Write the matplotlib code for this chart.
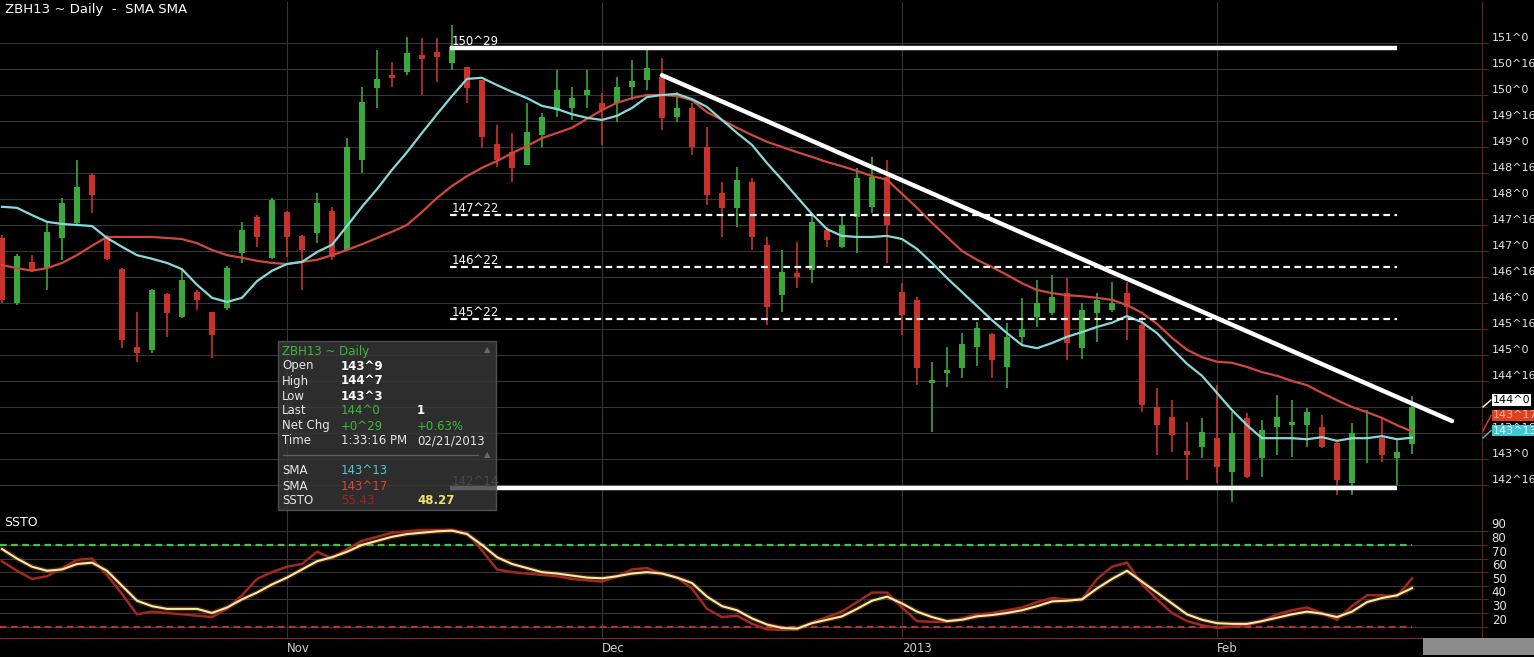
import math
import matplotlib
matplotlib.use('Agg')
import matplotlib.pyplot as plt
from matplotlib.patches import Rectangle
from matplotlib.lines import Line2D

W, H = 1534, 657
plt.rcParams['font.family'] = ['DejaVu Sans']

# daily candles ZBH13 (prices in points, 32nds shown on axis)
opens = [147.25, 146.00, 146.79, 146.67, 147.25, 147.54, 148.46, 147.27, 146.65, 145.15,
         145.10, 146.17, 145.73, 146.21, 145.83, 145.90, 146.96, 147.65, 146.87, 147.75,
         147.29, 147.35, 147.77, 147.02, 148.75, 150.13, 150.38, 150.44, 150.77, 150.83,
         150.62, 150.54, 150.29, 149.06, 148.90, 148.65, 149.23, 149.71, 149.75, 150.00,
         149.85, 149.85, 150.15, 150.29, 150.35, 149.58, 149.75, 149.00, 148.12, 147.83,
         148.33, 147.12, 146.15, 146.58, 146.63, 147.40, 147.08, 147.65, 147.85, 148.42,
         146.21, 146.06, 144.46, 144.65, 144.75, 145.15, 145.40, 144.77, 145.35, 145.73,
         145.81, 146.19, 145.13, 145.81, 145.87, 146.19, 145.58, 144.00, 143.81, 143.15,
         143.23, 143.40, 142.75, 143.79, 143.02, 143.62, 143.65, 143.65, 143.62, 143.31,
         142.54, 143.40, 143.40, 143.02, 143.28]
highs = [147.31, 146.94, 146.92, 147.54, 148.02, 148.75, 148.50, 147.31, 146.67, 145.83,
         146.27, 146.19, 146.63, 146.25, 145.83, 146.71, 147.56, 147.69, 148.02, 147.77,
         147.31, 148.12, 147.85, 149.17, 150.15, 150.87, 150.63, 151.12, 151.10, 151.10,
         151.35, 150.54, 150.29, 149.42, 149.27, 149.85, 149.65, 150.48, 150.15, 150.48,
         150.04, 150.35, 150.67, 150.90, 150.71, 150.06, 149.85, 149.38, 148.33, 148.62,
         148.40, 147.27, 147.02, 147.17, 147.73, 147.46, 147.69, 148.60, 148.81, 148.75,
         146.38, 146.12, 144.87, 145.15, 145.42, 145.63, 145.42, 145.62, 146.10, 146.44,
         146.54, 146.48, 146.00, 146.19, 146.40, 146.40, 145.73, 144.37, 144.13, 143.71,
         143.79, 144.42, 143.90, 143.88, 143.75, 144.23, 144.13, 143.98, 143.85, 143.33,
         143.69, 143.94, 143.81, 143.37, 144.22]
lows = [146.00, 145.96, 146.60, 146.25, 146.83, 147.50, 147.73, 146.83, 145.13, 144.87,
        145.04, 145.35, 145.71, 145.87, 144.94, 145.87, 146.77, 147.08, 146.85, 146.88,
        146.25, 147.15, 146.83, 147.02, 148.50, 149.75, 150.15, 150.38, 150.00, 150.25,
        150.48, 149.85, 148.98, 148.62, 148.33, 148.65, 149.00, 149.58, 149.52, 149.75,
        149.04, 149.48, 149.90, 150.10, 149.33, 149.48, 148.85, 147.88, 147.27, 147.46,
        147.02, 145.58, 145.83, 146.29, 146.38, 147.08, 147.06, 146.96, 147.73, 146.77,
        145.38, 144.42, 143.52, 144.38, 144.56, 144.79, 144.56, 144.37, 145.19, 145.54,
        145.77, 144.90, 144.92, 145.25, 145.83, 145.29, 143.90, 143.08, 143.13, 142.60,
        143.02, 142.54, 142.17, 142.63, 142.65, 143.08, 143.04, 143.23, 143.21, 142.31,
        142.31, 142.92, 142.94, 142.50, 143.09]
closes = [146.06, 146.90, 146.63, 147.37, 147.92, 148.23, 148.08, 146.85, 145.29, 145.04,
          146.25, 145.81, 146.44, 146.06, 145.38, 146.67, 147.40, 147.27, 147.98, 147.27,
          147.02, 147.92, 146.88, 149.00, 149.87, 150.31, 150.33, 150.81, 150.69, 150.73,
          150.92, 150.13, 149.19, 148.75, 148.60, 149.29, 149.58, 150.10, 149.94, 150.10,
          149.71, 150.15, 150.27, 150.52, 149.56, 149.75, 149.00, 148.08, 147.83, 148.37,
          147.27, 145.92, 146.60, 146.50, 147.56, 147.21, 147.50, 148.40, 148.42, 147.50,
          145.77, 144.75, 144.52, 144.71, 145.21, 145.52, 144.90, 145.35, 145.50, 146.00,
          146.12, 145.23, 145.87, 146.06, 146.00, 145.92, 144.04, 143.65, 143.46, 143.08,
          143.52, 142.85, 143.50, 142.65, 143.56, 143.81, 143.71, 143.90, 143.23, 142.60,
          143.50, 143.42, 143.08, 143.13, 144.00]

sma_fast = [147.85, 147.83, 147.69, 147.56, 147.52, 147.50, 147.48, 147.25, 147.08, 146.92,
            146.85, 146.77, 146.65, 146.35, 146.10, 146.02, 146.10, 146.42, 146.62, 146.75,
            146.79, 146.98, 147.12, 147.48, 147.85, 148.19, 148.56, 148.90, 149.27, 149.63,
            149.98, 150.31, 150.33, 150.19, 150.06, 149.94, 149.79, 149.73, 149.63, 149.56,
            149.52, 149.60, 149.75, 149.96, 150.00, 150.02, 149.92, 149.77, 149.52, 149.27,
            149.04, 148.69, 148.37, 148.04, 147.71, 147.42, 147.29, 147.27, 147.27, 147.29,
            147.23, 147.04, 146.77, 146.48, 146.21, 145.94, 145.67, 145.42, 145.19, 145.13,
            145.23, 145.35, 145.44, 145.54, 145.62, 145.75, 145.63, 145.42, 145.12, 144.83,
            144.60, 144.27, 143.94, 143.65, 143.40, 143.40, 143.40, 143.38, 143.42, 143.35,
            143.40, 143.40, 143.44, 143.38, 143.41]
sma_slow = [146.73, 146.67, 146.62, 146.67, 146.77, 146.92, 147.10, 147.27, 147.27, 147.27,
            147.27, 147.25, 147.23, 147.15, 147.02, 146.92, 146.87, 146.81, 146.77, 146.75,
            146.79, 146.83, 146.92, 147.02, 147.13, 147.25, 147.37, 147.50, 147.75, 148.02,
            148.25, 148.44, 148.60, 148.73, 148.88, 149.02, 149.17, 149.27, 149.37, 149.54,
            149.71, 149.85, 149.94, 150.00, 150.00, 149.98, 149.90, 149.67, 149.52, 149.37,
            149.23, 149.10, 149.00, 148.90, 148.81, 148.71, 148.63, 148.54, 148.44, 148.37,
            148.10, 147.83, 147.54, 147.27, 147.00, 146.83, 146.69, 146.54, 146.38, 146.25,
            146.19, 146.15, 146.13, 146.10, 146.06, 145.96, 145.81, 145.60, 145.33, 145.10,
            144.96, 144.87, 144.85, 144.77, 144.67, 144.60, 144.50, 144.42, 144.27, 144.13,
            144.00, 143.90, 143.79, 143.65, 143.53]

# slow stochastic
ssto_k = [68, 61, 55, 57, 63, 69, 70, 58, 44, 29,
          31, 30, 29, 28, 27, 33, 43, 55, 60, 64,
          66, 75, 70, 77, 83, 86, 89, 90, 91, 91,
          91, 89, 76, 62, 60, 59, 58, 57, 55, 54,
          53, 57, 62, 63, 59, 56, 48, 33, 27, 28,
          22, 18, 17.5, 18, 23, 27, 31, 38, 45, 45,
          34, 24, 23.5, 23.5, 26, 29, 30, 32, 34, 38,
          41, 40, 40, 55, 64, 67, 51, 40, 30, 24,
          21, 19, 20, 21, 24, 29, 32, 34, 30, 25,
          35, 43, 43, 42, 55.43]
ssto_d = [77, 70, 64, 61, 62, 66, 67, 61, 50, 39,
          35, 33, 33, 33, 30, 34, 40, 45, 51, 56,
          62, 68, 71, 75, 80, 83, 86, 88, 89, 90,
          90.5, 88, 80, 71, 66, 63, 60, 59, 57.5, 56,
          55.5, 57, 59, 60, 59, 56, 52, 42, 35, 32,
          26, 21.5, 19, 18.5, 22.5, 25, 27.5, 33, 39, 42,
          37, 31, 27, 24, 25, 27.5, 28.5, 30, 32, 35,
          38.5, 39, 40, 48, 55, 61, 53, 45, 37, 29,
          25, 22.5, 22, 22, 24, 26.5, 29, 31, 29.5, 27,
          31, 38, 41, 43, 48.27]

month_idx = [19, 40, 60, 81]
month_names = ['Nov', 'Dec', '2013', 'Feb']

resist = 150 + 29 / 32    # 150^29
support = 142 + 14 / 32   # 142^14
fib_levels = [147 + 22 / 32, 146 + 22 / 32, 145 + 22 / 32]
trend_x = [44, 96.67]
trend_y = [150.38, 143.73]


def frac32(p):
    whole = int(math.floor(p + 1e-9))
    t = int(round((p - whole) * 32))
    if t == 32:
        whole, t = whole + 1, 0
    return f"{whole}^{t}"


def fx(x):
    return x / W


def fy(y):
    return 1 - y / H


up_col = '#3aa83a'
dn_col = '#c8322a'
grid_col = '#363636'
axis_red = '#6b1f1f'

fig = plt.figure(figsize=(W / 100, H / 100), dpi=100, facecolor='black')
ax = fig.add_axes([0, fy(507), fx(1482), 505 / H], facecolor='black')
ax2 = fig.add_axes([0, fy(638), fx(1482), 131 / H], facecolor='black')

n = len(closes)
idx = list(range(n))

# candles
for i in idx:
    o, h, l, c = opens[i], highs[i], lows[i], closes[i]
    col = up_col if c >= o else dn_col
    ax.vlines(i, l, h, color=col, lw=1.2, zorder=3)
    ax.bar(i, max(abs(c - o), 0.025), bottom=min(o, c), width=0.34,
           color=col, zorder=3)

ax.plot(idx, sma_slow, color='#d2483a', lw=1.6, zorder=4)
ax.plot(idx, sma_fast, color='#86d9dc', lw=1.6, zorder=4)

# drawn levels
ax.hlines(resist, 29.9, 93, color='white', lw=3.2, zorder=5)
ax.hlines(support, 29.9, 93, color='white', lw=3.2, zorder=5)
for lv in fib_levels:
    ax.hlines(lv, 29.9, 93, color='white', lw=1.6, linestyles=(0, (3, 2)), zorder=5)
    ax.text(30, lv, frac32(lv), color='white', fontsize=8.5, va='bottom', zorder=6)
ax.text(30, resist, frac32(resist), color='white', fontsize=8.5, va='bottom', zorder=6)
ax.text(30, support, frac32(support), color='#9a9a9a', fontsize=8.5, va='bottom', zorder=6)
ax.plot(trend_x, trend_y, color='white', lw=3.2, solid_capstyle='round', zorder=5)

xmin, xmax = -2 / 15, 1480 / 15
ax.set_xlim(xmin, xmax)
ax.set_ylim(142.077, 151.788)
levels = [142.5 + 0.5 * k for k in range(18)]
ax.set_yticks(levels)
ax.set_yticklabels([frac32(v) for v in levels])
ax.yaxis.tick_right()
ax.tick_params(axis='y', color=axis_red, labelcolor='#e6e6e6', labelsize=8,
               length=4, pad=3)
for lab in ax.get_yticklabels():
    lab.set_verticalalignment('bottom')
ax.set_xticks(month_idx)
ax.tick_params(axis='x', length=0, labelbottom=False)
ax.grid(True, color=grid_col, lw=0.8)
ax.set_axisbelow(True)
for s in ['top', 'left', 'bottom']:
    ax.spines[s].set_visible(False)
ax.spines['right'].set_color(axis_red)

# SSTO panel
ax2.plot(idx, ssto_d, color='#c8641e', lw=3.5, alpha=0.35, zorder=3)
ax2.plot(idx, ssto_k, color='#a3281e', lw=1.8, zorder=3)
ax2.plot(idx, ssto_d, color='#f7eba8', lw=1.5, zorder=4)
ax2.hlines(80, xmin, 94, colors='#4cc24c', linestyles=(0, (3, 2)), lw=1.6, zorder=2)
ax2.hlines(20, xmin, 94, colors='#b33232', linestyles=(0, (3, 2)), lw=1.6, zorder=2)
ax2.set_xlim(xmin, xmax)
ax2.set_ylim(11.6, 107.9)
ax2.set_yticks(range(20, 100, 10))
ax2.yaxis.tick_right()
ax2.tick_params(axis='y', color=axis_red, labelcolor='#e6e6e6', labelsize=8.5,
                length=4, pad=3)
for lab in ax2.get_yticklabels():
    lab.set_verticalalignment('bottom')
ax2.set_xticks(month_idx)
ax2.set_xticklabels(month_names)
ax2.tick_params(axis='x', length=0, labelcolor='#d0d0d0', labelsize=8.5, pad=3)
for lab in ax2.get_xticklabels():
    lab.set_horizontalalignment('left')
ax2.grid(True, color=grid_col, lw=0.8)
ax2.set_axisbelow(True)
ax2.spines['top'].set_visible(False)
ax2.spines['left'].set_visible(False)
ax2.spines['right'].set_color(axis_red)
ax2.spines['bottom'].set_color('#8a2424')
ax2.text(0.003, 0.93, 'SSTO', transform=ax2.transAxes, color='white', fontsize=9,
         va='top')

fig.text(fx(5), fy(10), 'ZBH13 ~ Daily  -  SMA SMA', color='white', fontsize=9.5,
         va='center')

# data window box
fig.patches.append(Rectangle((fx(278), fy(510)), fx(218), 169 / H, transform=fig.transFigure,
                             facecolor='#383838', edgecolor='#5a5a5a', lw=1, alpha=0.82,
                             zorder=5))
fig.lines.append(Line2D([fx(283), fx(478)], [fy(455), fy(455)], transform=fig.transFigure,
                        color='#5e5e5e', lw=1, zorder=6))
for yy in (350, 455):
    fig.text(fx(487), fy(yy), '\u25b2', color='#6a6a6a', fontsize=6, ha='center',
             va='center', zorder=6)

rows = [
    (351, 'ZBH13 ~ Daily', '#3db83d', None, None, None, None),
    (366, 'Open', '#e6e6e6', frac32(opens[-1]), 'white', None, None),
    (381, 'High', '#e6e6e6', frac32(highs[-1]), 'white', None, None),
    (396, 'Low', '#e6e6e6', frac32(lows[-1]), 'white', None, None),
    (411, 'Last', '#e6e6e6', frac32(closes[-1]), '#3db83d', '1', 'white'),
    (426, 'Net Chg', '#e6e6e6', '+0^29', '#3db83d', '+0.63%', '#3db83d'),
    (441, 'Time', '#e6e6e6', '1:33:16 PM', '#e6e6e6', '02/21/2013', '#e6e6e6'),
    (471, 'SMA', '#e6e6e6', '143^13', '#4ec8d2', None, None),
    (486, 'SMA', '#e6e6e6', '143^17', '#d9472e', None, None),
    (501, 'SSTO', '#e6e6e6', f'{ssto_k[-1]:.2f}', '#a82020', f'{ssto_d[-1]:.2f}', '#f0e070'),
]
for yy, lab, lc, v1, c1, v2, c2 in rows:
    fig.text(fx(282), fy(yy), lab, color=lc, fontsize=8.5, va='center', zorder=7)
    if v1:
        fig.text(fx(341), fy(yy), v1, color=c1, fontsize=8.5, va='center', zorder=7,
                 fontweight='bold' if c1 == 'white' else 'normal')
    if v2:
        fig.text(fx(417), fy(yy), v2, color=c2, fontsize=8.5, va='center', zorder=7,
                 fontweight='bold' if c2 in ('white', '#f0e070') else 'normal')

# value tags on the price axis
tags = [(400, 407, frac32(closes[-1]), 'white', 'black'),
        (415.5, 431, frac32(sma_slow[-1]), '#e2401f', '#ffb0a0'),
        (430.5, 438, frac32(sma_fast[-1]), '#3cc8d4', '#e8ffff')]
for ty, ly, txt, fc, tc in tags:
    fig.lines.append(Line2D([fx(1483), fx(1491)], [fy(ly), fy(ty)], transform=fig.transFigure,
                            color=fc, lw=1, zorder=6))
    fig.text(fx(1493), fy(ty), txt, color=tc, fontsize=8, va='center', zorder=7,
             bbox=dict(boxstyle='square,pad=0.05', fc=fc, ec='none'))

fig.patches.append(Rectangle((fx(1423), fy(655)), fx(111), 17 / H, transform=fig.transFigure,
                             facecolor='#8c8c8c', edgecolor='none', zorder=5))

fig.savefig('out.png', dpi=100, facecolor='black')
